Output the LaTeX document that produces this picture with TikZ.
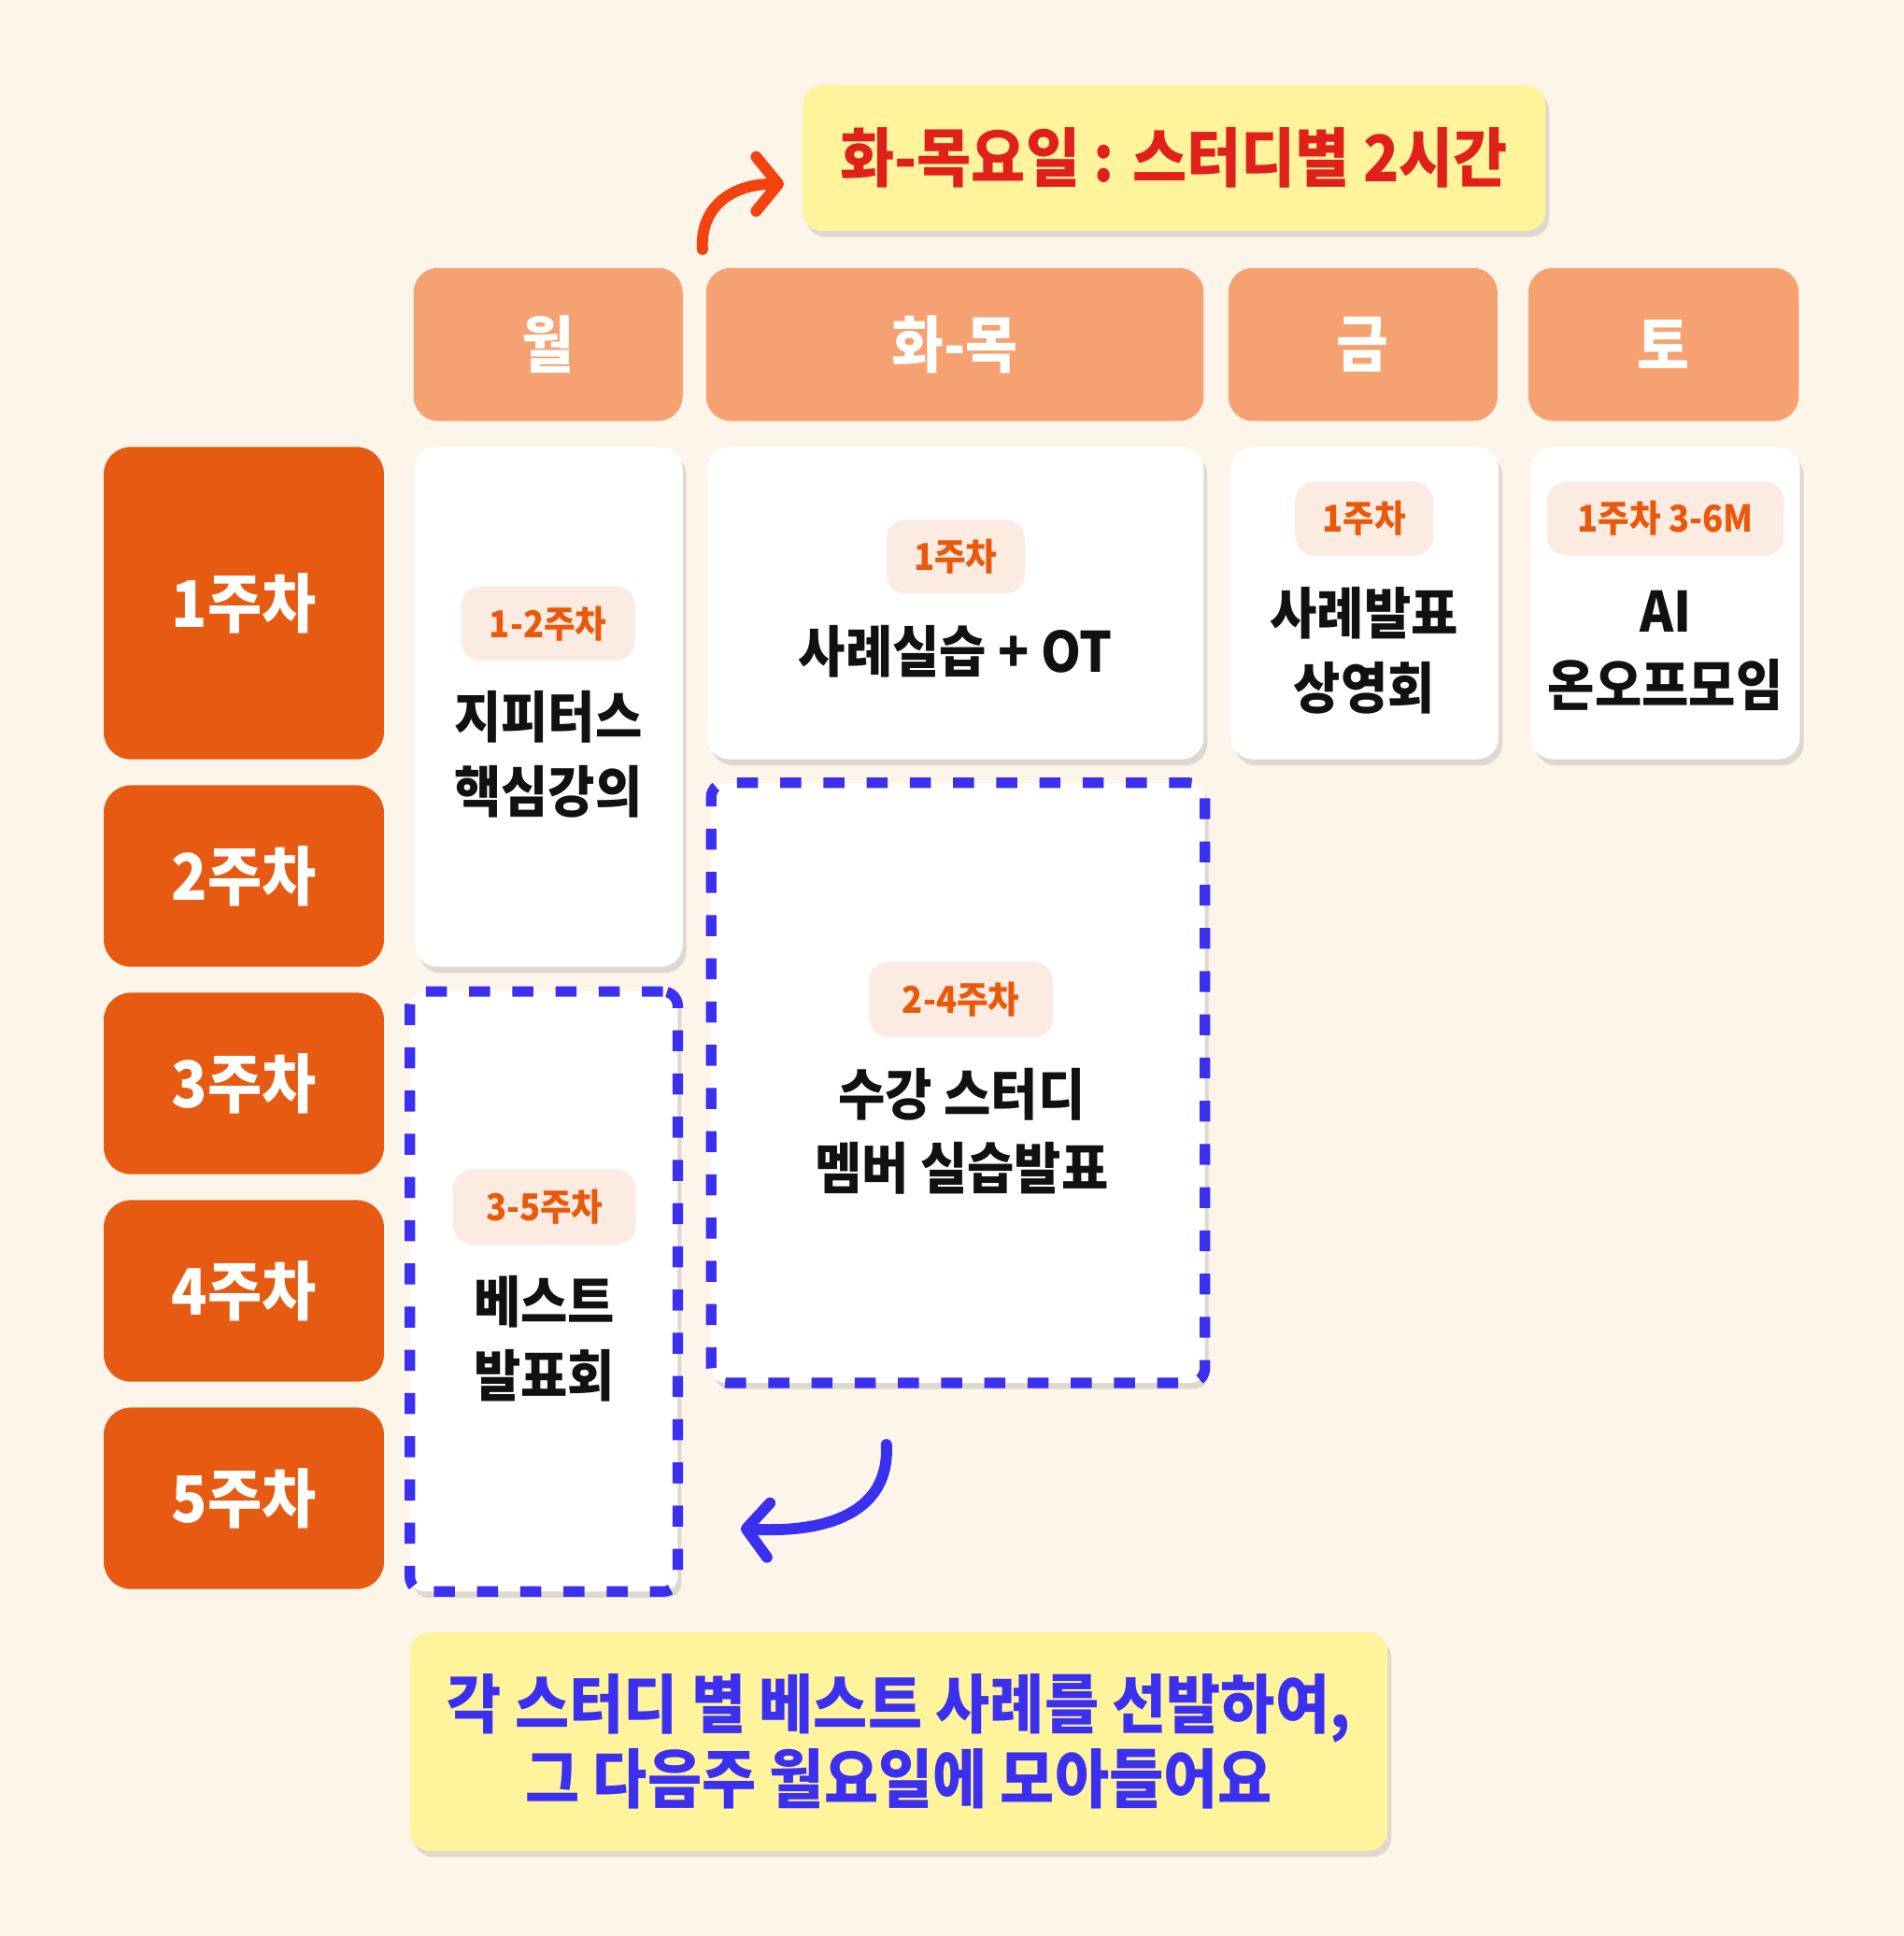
\documentclass[tikz,border=0pt]{standalone}
\usepackage{fontspec}
\setmainfont{Noto Sans CJK KR}[FakeStretch=0.92]
\usetikzlibrary{arrows.meta,shadows}
\definecolor{bgC}{HTML}{FDF5EA}
\definecolor{hdrC}{HTML}{F5A172}
\definecolor{rowC}{HTML}{E65A12}
\definecolor{pillC}{HTML}{FBEBE1}
\definecolor{tagC}{HTML}{E8590C}
\definecolor{ylwC}{HTML}{FFF39B}
\definecolor{redC}{HTML}{E0201A}
\definecolor{bluC}{HTML}{3B2FF0}
\definecolor{arrC}{HTML}{F2420E}
\definecolor{inkC}{HTML}{111111}
\tikzset{
  softshadow/.style={drop shadow={shadow xshift=3pt,shadow yshift=-5pt,fill=black!60,opacity=0.2}},
  hdrbox/.style={fill=hdrC,rounded corners=20pt,minimum height=124pt,text=white,font=\fontsize{50}{58}\selectfont\bfseries,inner sep=0pt},
  rowbox/.style={fill=rowC,rounded corners=22pt,minimum width=227pt,text=white,font=\fontsize{52}{60}\selectfont\bfseries,inner sep=0pt},
  cardbox/.style={fill=white,rounded corners=18pt,softshadow,inner sep=0pt},
  dashbox/.style={fill=white,draw=bluC,line width=8.5pt,dash pattern=on 17pt off 18pt,rounded corners=12pt,softshadow,inner sep=0pt},
  pill/.style={fill=pillC,rounded corners=16pt,minimum height=60pt,text=tagC,font=\fontsize{30}{36}\selectfont\bfseries,inner sep=0pt},
  maintext/.style={text=inkC,align=center,font=\fontsize{45}{60}\selectfont\bfseries,inner sep=0pt},
  callout/.style={fill=ylwC,rounded corners=16pt,softshadow,inner sep=0pt},
  curvearrow/.style={line width=9pt,line cap=round,-{Straight Barb[length=18pt,width=44pt,round]}}
}
\begin{document}
\begin{tikzpicture}[x=1pt,y=-1pt]
\fill[bgC] (0,0) rectangle (1542,1568);
\useasboundingbox (0,0) rectangle (1542,1568);

% top callout
\node[callout,minimum width=602pt,minimum height=118pt,text=redC,font=\fontsize{52}{60}\selectfont\bfseries] (topnote) at (951,128) {화-목요일 : 스터디별 2시간};

% headers
\node[hdrbox,minimum width=218pt] (hmon) at (444,279) {월};
\node[hdrbox,minimum width=403pt] (htt) at (773.5,279) {화-목};
\node[hdrbox,minimum width=218pt] (hfri) at (1104,279) {금};
\node[hdrbox,minimum width=219pt] (hsat) at (1347.5,279) {토};

% row labels
\node[rowbox,minimum height=253pt] (w1) at (197.5,488.5) {1주차};
\node[rowbox,minimum height=147pt] (w2) at (197.5,709.5) {2주차};
\node[rowbox,minimum height=147pt] (w3) at (197.5,877.5) {3주차};
\node[rowbox,minimum height=147pt] (w4) at (197.5,1045.5) {4주차};
\node[rowbox,minimum height=147pt] (w5) at (197.5,1213.5) {5주차};

% white cards
\node[cardbox,minimum width=217pt,minimum height=421pt] (cmon) at (444.5,572.5) {};
\node[cardbox,minimum width=402pt,minimum height=253pt] (ctt) at (774,488.5) {};
\node[cardbox,minimum width=217pt,minimum height=253pt] (cfri) at (1105.5,488.5) {};
\node[cardbox,minimum width=218pt,minimum height=253pt] (csat) at (1349,488.5) {};

% dashed cards
\node[dashbox,minimum width=400pt,minimum height=486pt] (dtt) at (776,877) {};
\node[dashbox,minimum width=217pt,minimum height=486pt] (dmon) at (440.5,1046) {};

% tags
\node[pill,minimum width=141pt] (tmon) at (444,505) {1-2주차};
\node[pill,minimum width=112pt] (ttt) at (774,451) {1주차};
\node[pill,minimum width=112pt] (tfri) at (1105,420) {1주차};
\node[pill,minimum width=192pt] (tsat) at (1349,420) {1주차 3-6M};
\node[pill,minimum width=149pt,minimum height=61pt] (tdtt) at (778.5,809.5) {2-4주차};
\node[pill,minimum width=148pt,minimum height=61pt] (tdmon) at (441,977.5) {3-5주차};

% main texts
\node[maintext] (xmon) at (444,611) {지피터스\\핵심강의};
\node[maintext] (xtt) at (774,528) {사례실습 + OT};
\node[maintext] (xfri) at (1105,527) {사례발표\\상영회};
\node[maintext] (xsat) at (1349,527) {AI\\온오프모임};
\node[maintext] (xdtt) at (779,916) {수강 스터디\\멤버 실습발표};
\node[maintext] (xdmon) at (441,1084) {베스트\\발표회};

% bottom callout
\node[callout,minimum width=792pt,minimum height=177pt,text=bluC,align=center,font=\fontsize{52}{60}\selectfont\bfseries] (botnote) at (728,1410.5) {각 스터디 별 베스트 사례를 선발하여,\\그 다음주 월요일에 모아들어요};

% arrows
\coordinate (ra1) at (569,202);
\coordinate (ra2) at (635,149);
\draw[curvearrow,arrC] (ra1) .. controls (567,168) and (592,149) .. (ra2);
\coordinate (ba1) at (718,1170);
\coordinate (ba2) at (600,1238);
\draw[curvearrow,bluC] (ba1) .. controls (721,1225) and (670,1242) .. (ba2);
\end{tikzpicture}
\end{document}
